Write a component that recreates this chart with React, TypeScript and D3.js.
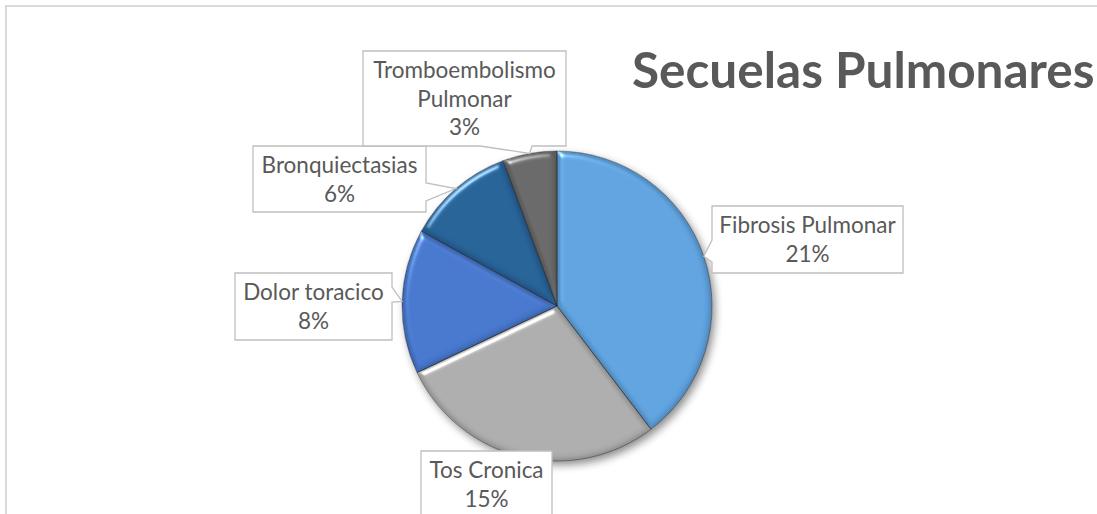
import React from "react";
import * as d3 from "d3";

// ---- data ----
const categories = ["Fibrosis Pulmonar", "Tos Cronica", "Dolor toracico", "Bronquiectasias", "Tromboembolismo Pulmonar"];
const values = [21, 15, 8, 6, 3];
const valueLabels = ["21%", "15%", "8%", "6%", "3%"];
const nameLines = [["Fibrosis Pulmonar"], ["Tos Cronica"], ["Dolor toracico"], ["Bronquiectasias"], ["Tromboembolismo", "Pulmonar"]];
const title = "Secuelas Pulmonares";

// ---- styles / layout ----
const colors = ["#5B9BD5", "#A5A5A5", "#4472C4", "#255E91", "#636363"];
const W = 1097, H = 514;
const cx = 557, cy = 306, R = 155;
const FONT = "Lato, 'Open Sans', sans-serif";
const TEXT = "#595959";
type Box = { x: number; y: number; w: number; h: number; side: "left" | "right" | "bottom" | "none"; b0: number; b1: number };
const boxes: Box[] = [
  { x: 712, y: 206, w: 191, h: 67, side: "left", b0: 240, b1: 262 },
  { x: 421, y: 451, w: 131, h: 90, side: "none", b0: 0, b1: 0 },
  { x: 235, y: 273, w: 157, h: 67, side: "right", b0: 287, b1: 302 },
  { x: 253, y: 146, w: 173, h: 66, side: "right", b0: 183, b1: 201 },
  { x: 363, y: 51, w: 203, h: 95, side: "bottom", b0: 480, b1: 532 },
];

function calloutPath(b: Box, tip: [number, number]) {
  const { x, y, w, h } = b;
  const r = x + w, bt = y + h;
  const p: [number, number][] = [];
  p.push([x, y], [r, y]);
  if (b.side === "right") {
    p.push([r, b.b0], tip, [r, b.b1]);
  }
  p.push([r, bt]);
  if (b.side === "bottom") {
    p.push([b.b1, bt], tip, [b.b0, bt]);
  }
  p.push([x, bt]);
  if (b.side === "left") {
    p.push([x, b.b1], tip, [x, b.b0]);
  }
  return "M" + p.map((q) => q.join(",")).join("L") + "Z";
}

export default function App() {
  const pie = d3.pie<number>().sort(null).value((d) => d);
  const arcs = pie(values);
  const arc = d3.arc<d3.PieArcDatum<number>>().innerRadius(0).outerRadius(R);

  return (
    <svg width={W} height={H} style={{ position: "absolute", left: 0, top: 0, background: "#fff" }} fontFamily={FONT}>
      <defs>
        <filter id="bevel" x="-5%" y="-5%" width="110%" height="110%" colorInterpolationFilters="sRGB">
          <feGaussianBlur in="SourceAlpha" stdDeviation="3" result="blur" />
          <feDiffuseLighting in="blur" surfaceScale="2.5" diffuseConstant="1.0" lightingColor="#ffffff" result="diff">
            <feDistantLight azimuth="235" elevation="90" />
          </feDiffuseLighting>
          <feComposite in="SourceGraphic" in2="diff" operator="arithmetic" k1="1" k2="0" k3="0" k4="0" result="shaded" />
          <feSpecularLighting in="blur" surfaceScale="3" specularConstant="1" specularExponent="45" lightingColor="#ffffff" result="spec">
            <feDistantLight azimuth="235" elevation="45" />
          </feSpecularLighting>
          <feComposite in="spec" in2="SourceAlpha" operator="in" result="specIn" />
          <feComposite in="shaded" in2="specIn" operator="arithmetic" k1="0" k2="1" k3="0.55" k4="0" result="lit" />
          <feComposite in="lit" in2="SourceAlpha" operator="in" />
        </filter>
        <filter id="shadow" x="-20%" y="-20%" width="140%" height="140%">
          <feGaussianBlur stdDeviation="4" />
        </filter>
        {arcs.map((a, i) => (
          <linearGradient key={i} id={`g${i}`} gradientUnits="userSpaceOnUse" x1={0} y1={cy - R} x2={0} y2={cy + R}>
            <stop offset="0" stopColor={d3.color(colors[i])!.brighter(0.1).formatHex()} />
            <stop offset="1" stopColor={d3.color(colors[i])!.darker(0.05).formatHex()} />
          </linearGradient>
        ))}
      </defs>
      <rect x={6} y={6} width={1300} height={700} fill="#fff" stroke="#d9d9d9" strokeWidth={2} />

      <g transform={`translate(${cx + 3},${cy + 4})`} filter="url(#shadow)" opacity={0.45}>
        {arcs.map((a, i) => (
          <path key={i} d={arc(a) || ""} fill="#000" />
        ))}
      </g>
      <g transform={`translate(${cx},${cy})`}>
        {arcs.map((a, i) => (
          <path key={i} d={arc(a) || ""} fill={`url(#g${i})`} filter="url(#bevel)" />
        ))}
        {arcs.map((a, i) => (
          <path key={"s" + i} d={arc(a) || ""} fill="none" stroke="#1a1a1a" strokeOpacity={0.5} strokeWidth={0.8} strokeLinejoin="round" />
        ))}
      </g>

      <text x={632} y={88} fontSize={49.5} fontWeight={700} fill={TEXT}>{title}</text>

      {arcs.map((a, i) => {
        const b = boxes[i];
        const mid = (a.startAngle + a.endAngle) / 2;
        const tip: [number, number] = [cx + R * Math.sin(mid), cy - R * Math.cos(mid)];
        const lines = [...nameLines[i], valueLabels[i]];
        const tx = b.x + b.w / 2;
        return (
          <g key={"l" + i}>
            <path d={calloutPath(b, tip)} fill="#fff" stroke="#bfbfbf" strokeWidth={1.3} />
            <text textAnchor="middle" fontSize={22.5} fill={TEXT}>
              {lines.map((t, j) => (
                <tspan key={j} x={tx} y={b.y + 27 + j * 28.7}>{t}</tspan>
              ))}
            </text>
          </g>
        );
      })}
    </svg>
  );
}
